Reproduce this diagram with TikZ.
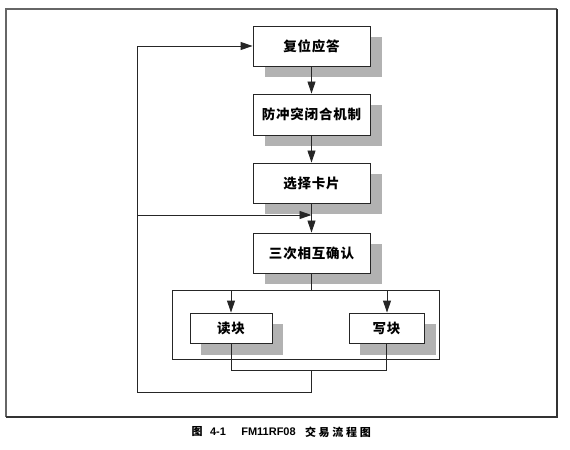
\documentclass[tikz,border=0pt]{standalone}
\usepackage{fontspec}
\newfontfamily\cjk{Noto Sans CJK SC}
\newfontfamily\lat{Liberation Sans}
\usetikzlibrary{arrows.meta,calc}
\begin{document}
\begin{tikzpicture}[x=1bp,y=-1bp,
  ln/.style={draw=black!85,line width=0.9bp},
  arr/.style={ln,-{Triangle[length=12bp,width=8bp]}},
  stepbox/.style={ln,fill=white,minimum width=117bp,minimum height=40bp,inner sep=0pt,
    font=\cjk\bfseries\fontsize{13.5bp}{15bp}\selectfont\addfontfeature{LetterSpace=6}},
  smallbox/.style={stepbox,minimum height=30bp},
  shadow/.style={fill=black!30,draw=none}]
\useasboundingbox (0,0) rectangle (570,450);
% frame
\draw[black!60,line width=1.5bp] (6,417) -- (6,9) -- (557,9);
\draw[black!80,line width=1.5bp] (6,417) -- (557,417) -- (557,9);
% shadows
\fill[shadow] (265,37) rectangle (382,77);
\fill[shadow] (265,105) rectangle (382,146);
\fill[shadow] (265,174) rectangle (382,214);
\fill[shadow] (265,244) rectangle (382,284);
\fill[shadow] (201,324) rectangle (283,355);
\fill[shadow] (360,324) rectangle (436,355);
% group rectangle
\draw[ln] (172,290) rectangle (439,359);
\coordinate (gl) at (231,290);
\coordinate (gr) at (387,290);
\coordinate (gm) at (311.5,290);
% boxes
\node[stepbox] (b1) at (311.5,46) {复位应答};
\node[stepbox,minimum height=41bp] (b2) at (311.5,114.5) {防冲突闭合机制};
\node[stepbox] (b3) at (311.5,183) {选择卡片};
\node[stepbox] (b4) at (311.5,253) {三次相互确认};
\node[smallbox,minimum width=82bp] (rd) at (231,328) {读块};
\node[smallbox,minimum width=75bp] (wr) at (386.5,328) {写块};
% connectors
\draw[arr] (b1) -- (b2);
\draw[arr] (b2) -- (b3);
\draw[arr] (b3) -- (b4);
\coordinate (m3) at (311.5,215);
\coordinate (lp) at (137,215);
\draw[arr] (lp) -- (m3);
\draw[ln] (b4) -- (gm);
\draw[arr] (gl) -- (rd);
\draw[arr] (gr) -- (gr|-wr.north);
\coordinate (jl) at (231,370);
\coordinate (jr) at (386.5,370);
\coordinate (jm) at (311.5,370);
\coordinate (jb) at (311.5,392);
\coordinate (lb) at (137,392);
\coordinate (lt) at (137,46);
\draw[ln] (rd.south) -- (jl) -- (jr) -- (wr.south);
\draw[arr] (jm) -- (jb) -- (lb) -- (lt) -- (b1.west);
% caption
\begin{scope}[font=\cjk\bfseries\fontsize{11bp}{13bp}\selectfont]
\node[inner sep=0pt] (c1) at (197,432) {图};
\node[inner sep=0pt,font=\lat\bfseries\fontsize{11bp}{13bp}\selectfont] (c2) at (218,432) {4-1};
\node[inner sep=0pt,font=\lat\bfseries\fontsize{11bp}{13bp}\selectfont] (c3) at (268.5,432) {FM11RF08};
\node[inner sep=0pt] (c4) at (338,432) {\addfontfeature{LetterSpace=25}交易流程图\hspace{-2.75bp}};
\end{scope}
\end{tikzpicture}
\end{document}
